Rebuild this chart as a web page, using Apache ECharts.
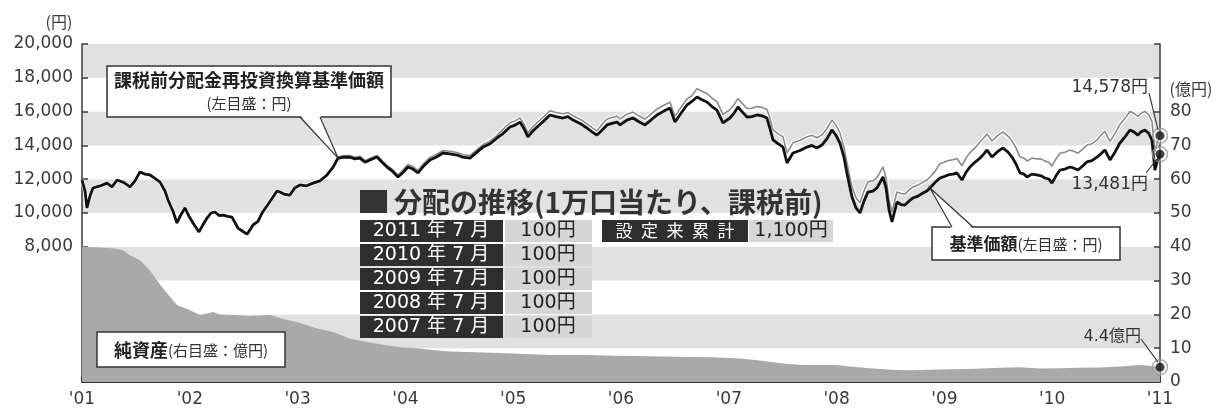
<!DOCTYPE html>
<html><head><meta charset="utf-8">
<script src="https://cdn.jsdelivr.net/npm/echarts@6/dist/echarts.min.js"></script>
<style>html,body{margin:0;padding:0;background:#fff}#c{width:1216px;height:408px}</style>
</head><body><div id="c"></div>
<script>
// ---- data ----
const yearLabels = ["'01","'02","'03","'04","'05","'06","'07","'08","'09","'10","'11"];
const leftTickLabels = {8000:'8,000',10000:'10,000',12000:'12,000',14000:'14,000',16000:'16,000',18000:'18,000',20000:'20,000'};
const rightTickLabels = {0:'0',10:'10',20:'20',30:'30',40:'40',50:'50',60:'60',70:'70',80:'80'};

const navYears = [
2001.000,2001.028,2001.046,2001.074,2001.102,2001.167,2001.232,2001.278,2001.325,2001.390,
2001.445,2001.492,2001.538,2001.584,2001.631,2001.677,2001.724,2001.770,2001.798,2001.844,
2001.881,2001.918,2001.955,2001.993,2002.030,2002.085,2002.122,2002.160,2002.197,2002.234,
2002.271,2002.308,2002.354,2002.391,2002.447,2002.484,2002.531,2002.558,2002.586,2002.633,
2002.670,2002.725,2002.772,2002.809,2002.837,2002.883,2002.929,2002.976,2003.022,2003.078,
2003.143,2003.208,2003.273,2003.328,2003.375,2003.430,2003.486,2003.532,2003.579,2003.625,
2003.672,2003.736,2003.783,2003.829,2003.876,2003.931,2003.978,2004.024,2004.070,2004.117,
2004.172,2004.228,2004.284,2004.349,2004.414,2004.479,2004.534,2004.599,2004.664,2004.720,
2004.785,2004.850,2004.905,2004.970,2005.017,2005.063,2005.100,2005.137,2005.174,2005.221,
2005.276,2005.341,2005.397,2005.462,2005.508,2005.555,2005.620,2005.684,2005.731,2005.777,
2005.824,2005.870,2005.916,2005.963,2005.991,2006.055,2006.111,2006.167,2006.222,2006.278,
2006.334,2006.389,2006.454,2006.501,2006.556,2006.612,2006.658,2006.705,2006.751,2006.797,
2006.844,2006.890,2006.946,2007.011,2007.048,2007.085,2007.122,2007.169,2007.215,2007.262,
2007.308,2007.354,2007.382,2007.410,2007.456,2007.503,2007.540,2007.595,2007.660,2007.725,
2007.771,2007.818,2007.864,2007.911,2007.957,2007.994,2008.031,2008.068,2008.096,2008.124,
2008.143,2008.180,2008.217,2008.254,2008.291,2008.337,2008.374,2008.402,2008.430,2008.458,
2008.486,2008.514,2008.560,2008.597,2008.634,2008.671,2008.708,2008.755,2008.801,2008.838,
2008.866,2008.912,2008.959,2008.996,2009.033,2009.079,2009.116,2009.163,2009.200,2009.237,
2009.283,2009.330,2009.367,2009.395,2009.441,2009.488,2009.543,2009.590,2009.627,2009.664,
2009.701,2009.738,2009.766,2009.812,2009.858,2009.896,2009.933,2009.970,2009.998,2010.035,
2010.072,2010.118,2010.165,2010.202,2010.239,2010.285,2010.322,2010.369,2010.415,2010.452,
2010.489,2010.536,2010.582,2010.628,2010.675,2010.721,2010.758,2010.795,2010.823,2010.860,
2010.897,2010.925,2010.953,2010.972,2011.000];

// 基準価額 (円)
const navValues = [
11950,11300,10300,11000,11480,11600,11770,11550,11950,11800,
11540,11900,12430,12300,12250,12050,11830,11300,10770,10100,
9410,9900,10300,9800,9410,8880,9300,9700,10000,10060,
9850,9880,9800,9760,9110,8950,8750,9000,9290,9500,
10000,10500,10950,11300,11240,11100,11060,11500,11660,11600,
11770,11900,12250,12700,13250,13300,13300,13200,13250,13000,
13140,13310,13000,12720,12500,12130,12400,12720,12600,12370,
12800,13140,13300,13550,13500,13430,13300,13250,13600,13900,
14100,14440,14700,15090,15200,15380,15000,14500,14800,15090,
15400,15800,15700,15620,15700,15500,15300,15030,14800,14610,
14900,15210,15300,15380,15210,15500,15620,15400,15210,15500,
15800,16000,16210,15380,15900,16390,16600,16860,16700,16570,
16300,16090,15330,15620,15900,16270,16000,15680,15700,15800,
15750,15620,15000,14320,14100,13900,12960,13550,13700,13900,
14000,13850,14020,14400,14910,14600,14140,13300,12370,11500,
10950,10300,10000,10700,11240,11300,11480,11800,12130,11500,
10200,9470,10650,10500,10470,10700,10890,11000,11180,11300,
11480,11800,12070,12150,12250,12300,12370,11950,12400,12720,
13000,13250,13500,13730,13310,13600,13850,13600,13310,12900,
12370,12300,12130,12300,12250,12200,12070,12000,11770,12200,
12540,12600,12720,12650,12540,12800,13020,13100,13310,13500,
13730,13140,13600,14140,14500,14910,14800,14610,14800,14910,
14700,14320,12540,13000,13481];

// 課税前分配金再投資換算基準価額 (円)
const reinvestValues = [
11950,11300,10300,11000,11480,11600,11770,11550,11950,11800,
11540,11900,12430,12300,12250,12050,11830,11300,10770,10100,
9410,9900,10300,9800,9410,8880,9300,9700,10000,10060,
9850,9880,9800,9760,9110,8950,8750,9000,9290,9500,
10000,10500,10950,11300,11240,11100,11060,11500,11660,11600,
11770,11900,12250,12730,13310,13400,13400,13300,13350,13100,
13240,13410,13100,12820,12600,12230,12550,12870,12750,12520,
12950,13290,13450,13700,13650,13580,13450,13400,13750,14050,
14250,14590,14950,15340,15450,15630,15250,14750,15050,15340,
15650,16050,15950,15870,15950,15750,15550,15280,15050,14860,
15250,15560,15650,15730,15560,15850,15970,15750,15560,15850,
16150,16350,16560,15730,16250,16740,16950,17360,17200,17070,
16800,16590,15830,16120,16400,16770,16500,16180,16200,16300,
16250,16120,15600,14920,14700,14500,13560,14150,14300,14500,
14600,14450,14620,15000,15510,15200,14740,13900,12970,12100,
11550,10900,10600,11300,11840,11900,12080,12400,12730,12100,
10800,10070,11250,11150,11120,11350,11540,11650,11830,11950,
12130,12450,12920,13000,13100,13150,13220,12800,13250,13570,
13850,14200,14450,14680,14260,14550,14800,14550,14260,13850,
13320,13250,13080,13250,13200,13200,13070,13000,12770,13200,
13540,13600,13720,13650,13540,13800,14020,14100,14310,14600,
14830,14240,14700,15240,15600,16010,15900,15710,15900,16010,
15800,15420,13640,14100,14578];

// 純資産 (億円)
const assetYears = [
2001.000,2001.167,2001.306,2001.380,2001.445,2001.538,2001.631,2001.696,2001.770,2001.881,
2001.983,2002.095,2002.215,2002.280,2002.401,2002.558,2002.744,2002.883,2003.022,2003.161,
2003.328,2003.486,2003.644,2003.792,2003.950,2004.107,2004.256,2004.414,2004.646,2004.877,
2005.109,2005.341,2005.666,2005.963,2006.269,2006.612,2006.825,2007.076,2007.243,2007.382,
2007.540,2007.688,2007.846,2008.003,2008.124,2008.309,2008.514,2008.681,2008.866,2009.052,
2009.293,2009.516,2009.701,2009.887,2010.072,2010.257,2010.443,2010.628,2010.814,2010.907,
2011.000];
const assetValues = [
40,39.8,39.5,39,37.5,36,33,30,27,22.8,
21.5,19.8,20.7,20,19.8,19.5,19.8,18.5,17.5,16,
14.8,12.8,11.8,11,10.3,10,9.5,9,8.8,8.6,
8.3,8,8,7.8,7.6,7.4,7.3,7,6.5,6,
5.3,5,5,5,4.6,4.1,3.6,3.5,3.6,3.8,
3.9,4.2,4.4,4.0,4.1,4.2,4.3,4.6,5.0,4.8,
4.4];

const distMonths = ['2011 年 7 月','2010 年 7 月','2009 年 7 月','2008 年 7 月','2007 年 7 月'];
const distAmounts = ['100円','100円','100円','100円','100円'];
const distTotalLabel = '設\u2002定\u2002来\u2002累\u2002計';
const distTotalAmount = '1,100円';
const distTitle = '分配の推移(1万口当たり、課税前)';
const endNavLabel = '13,481円';
const endReinvestLabel = '14,578円';
const endAssetLabel = '4.4億円';

// ---- chart ----
const JP = '"Noto Sans CJK JP","Noto Sans",sans-serif';
const NUM = '"DejaVu Sans","Noto Sans CJK JP",sans-serif';
const pair = (xs, ys) => xs.map((x, i) => [x, ys[i]]);
const last = a => a[a.length - 1];

const chart = echarts.init(document.getElementById('c'), null, {renderer: 'canvas', width: 1216, height: 408});

const axisLineStyle = {color: '#3a3a3a', width: 1.5};
const option = {
  animation: false,
  textStyle: {fontFamily: NUM},
  grid: {left: 82, right: 56, top: 44, bottom: 26},
  xAxis: {
    type: 'value', min: 2001, max: 2011, interval: 1,
    axisLine: {show: true, lineStyle: {color: '#333', width: 2}},
    axisTick: {show: true, inside: true, length: 6, lineStyle: {color: '#333', width: 1.5}},
    axisLabel: {margin: 9, fontSize: 17, color: '#3a3a3a', fontFamily: NUM,
      formatter: v => yearLabels[Math.round(v - 2001)] || ''},
    splitLine: {show: false}
  },
  yAxis: [{
    type: 'value', min: 0, max: 20000, interval: 2000,
    axisLine: {show: true, lineStyle: axisLineStyle},
    axisTick: {show: true, inside: true, length: 6, lineStyle: axisLineStyle},
    axisLabel: {margin: 9, fontSize: 17, color: '#3a3a3a', fontFamily: NUM,
      formatter: v => leftTickLabels[v] || ''},
    splitLine: {show: false},
    splitArea: {show: true, areaStyle: {color: ['#ffffff', '#e1e1e1']}}
  }, {
    type: 'value', min: 0, max: 100, interval: 10, position: 'right',
    axisLine: {show: true, lineStyle: axisLineStyle},
    axisTick: {show: true, inside: true, length: 6, lineStyle: axisLineStyle},
    axisLabel: {margin: 10, fontSize: 17, color: '#3a3a3a', fontFamily: NUM,
      formatter: v => (rightTickLabels[v] !== undefined ? rightTickLabels[v] : '')},
    splitLine: {show: false}
  }],
  series: [
    {name: '純資産', type: 'line', yAxisIndex: 1, data: pair(assetYears, assetValues),
      symbol: 'none', lineStyle: {width: 0}, areaStyle: {color: '#a9a9a9', opacity: 1}, z: 1},
    {name: 'halo', type: 'line', data: pair(navYears, reinvestValues), symbol: 'none',
      lineStyle: {width: 4, color: '#ffffff'}, z: 2},
    {name: '課税前分配金再投資換算基準価額', type: 'line', data: pair(navYears, reinvestValues), symbol: 'none',
      lineStyle: {width: 1.6, color: '#8a8a8a'}, z: 3},
    {name: '基準価額', type: 'line', data: pair(navYears, navValues), symbol: 'none',
      lineStyle: {width: 2.8, color: '#111111'}, z: 4},
    {type: 'scatter', data: [[last(navYears), last(reinvestValues)], [last(navYears), last(navValues)]],
      symbol: 'circle', symbolSize: 15, itemStyle: {color: 'rgba(255,255,255,0.2)', borderColor: '#999', borderWidth: 1.5}, z: 5},
    {type: 'scatter', yAxisIndex: 1, data: [[last(assetYears), last(assetValues)]],
      symbol: 'circle', symbolSize: 15, itemStyle: {color: 'rgba(255,255,255,0.2)', borderColor: '#999', borderWidth: 1.5}, z: 5},
    {type: 'scatter', data: [[last(navYears), last(reinvestValues)], [last(navYears), last(navValues)]],
      symbol: 'circle', symbolSize: 9, itemStyle: {color: '#111'}, z: 6},
    {type: 'scatter', yAxisIndex: 1, data: [[last(assetYears), last(assetValues)]],
      symbol: 'circle', symbolSize: 9, itemStyle: {color: '#111'}, z: 6}
  ]
};
chart.setOption(option);

// ---- annotations ----
const P0 = (x, y) => chart.convertToPixel({xAxisIndex: 0, yAxisIndex: 0}, [x, y]);
const P1 = (x, y) => chart.convertToPixel({xAxisIndex: 0, yAxisIndex: 1}, [x, y]);
const G = [];
const txt = (x, y, text, font, fill, align, extra) => G.push(Object.assign({
  type: 'text', x: x, y: y, z: 100,
  style: Object.assign({text: text, font: font, fill: fill, textAlign: align || 'center', textVerticalAlign: 'middle',
    align: align || 'center', verticalAlign: 'middle'}, extra || {})
}));
const rect = (x, y, w, h, fill, stroke, lw) => G.push({type: 'rect', z: 99,
  shape: {x: x, y: y, width: w, height: h},
  style: {fill: fill, stroke: stroke || null, lineWidth: lw || 0}});
const poly = (pts, fill) => G.push({type: 'polygon', z: 99, shape: {points: pts}, style: {fill: fill, stroke: null}});
const line = (pts, w) => G.push({type: 'polyline', z: 100, shape: {points: pts}, style: {stroke: '#333', lineWidth: w || 1.2, fill: null}});

// axis names
txt(59, 22, '(円)', '16px ' + JP, '#3a3a3a');
txt(1191, 89, '(億円)', '16px ' + JP, '#3a3a3a');

// callout 1: 課税前分配金再投資換算基準価額
const tip1 = P0(navYears[54], navValues[54]);
rect(107, 66, 284, 51, '#ffffff', '#333', 1.5);
poly([[300, 115], [320, 115], tip1], '#ffffff');
line([[300, 117], tip1, [320, 117]], 1.2);
txt(249, 80, '課税前分配金再投資換算基準価額', 'bold 18px ' + JP, '#222');
txt(249, 103, '(左目盛：円)', '15px ' + JP, '#333');

// callout 2: 基準価額
const tip2 = P0(navYears[170], navValues[170]);
rect(932, 227, 188, 33, '#ffffff', '#333', 1.5);
poly([[952, 229], [973, 229], tip2], '#ffffff');
line([[952, 227], tip2, [973, 227]], 1.2);
G.push({type: 'text', x: 1026, y: 244, z: 100, style: {
  text: '{b|基準価額}{n|(左目盛：円)}', textAlign: 'center', textVerticalAlign: 'middle', align: 'center', verticalAlign: 'middle',
  rich: {b: {font: 'bold 17px ' + JP, fill: '#222'}, n: {font: '15px ' + JP, fill: '#333'}}}});

// callout 3: 純資産
rect(97, 332, 188, 35, '#ffffff', '#333', 1.5);
G.push({type: 'text', x: 191, y: 350, z: 100, style: {
  text: '{b|純資産}{n|(右目盛：億円)}', textAlign: 'center', textVerticalAlign: 'middle', align: 'center', verticalAlign: 'middle',
  rich: {b: {font: 'bold 18px ' + JP, fill: '#222'}, n: {font: '15px ' + JP, fill: '#333'}}}});

// end labels
const eR = P0(last(navYears), last(reinvestValues));
const eN = P0(last(navYears), last(navValues));
const eA = P1(last(assetYears), last(assetValues));
txt(1148, 88, endReinvestLabel, '17px ' + NUM, '#333', 'right');
line([[1149, 93], [eR[0] - 2, eR[1] - 6]], 1.1);
txt(1148, 185, endNavLabel, '17px ' + NUM, '#333', 'right');
line([[1146, 173], [eN[0] - 3, eN[1] + 5]], 1.1);
txt(1141, 337, endAssetLabel, '16px ' + NUM, '#333', 'right');
line([[1141, 339], [eA[0] - 2, eA[1] - 5]], 1.1);

// distribution table
rect(360, 190, 27, 23, '#333333');
txt(394, 202, distTitle, 'bold 28px ' + JP, '#333', 'left');
distMonths.forEach((m, i) => {
  const y = 220 + i * 24;
  rect(360, y, 143, 22, '#2e2e2e');
  rect(505, y, 87, 22, '#d6d6d6');
  txt(431, y + 11, m, '19px ' + NUM, '#ffffff');
  txt(548, y + 11, distAmounts[i], '19px ' + NUM, '#222');
});
rect(602, 220, 146, 22, '#2e2e2e');
rect(749, 220, 84, 22, '#d6d6d6');
txt(675, 231, distTotalLabel, '17px ' + JP, '#ffffff');
txt(791, 231, distTotalAmount, '19px ' + NUM, '#222');

chart.setOption({graphic: {elements: G}});
</script>
</body></html>
